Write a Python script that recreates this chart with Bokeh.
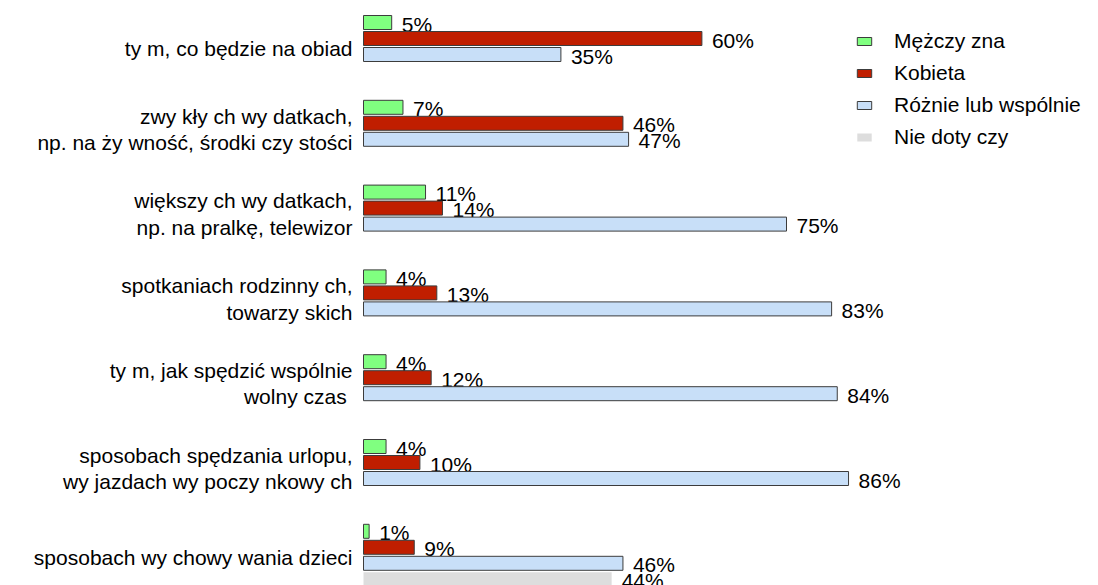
from bokeh.plotting import figure
from bokeh.models import ColumnDataSource, Range1d, Legend, LegendItem
from bokeh.core.properties import value
from bokeh.embed import file_html
from bokeh.resources import INLINE

categories = [
    "ty m, co będzie na obiad",
    "zwy kły ch wy datkach,\nnp. na ży wność, środki czy stości",
    "większy ch wy datkach,\nnp. na pralkę, telewizor",
    "spotkaniach rodzinny ch,\ntowarzy skich",
    "ty m, jak spędzić wspólnie\nwolny  czas",
    "sposobach spędzania urlopu,\nwy jazdach wy poczy nkowy ch",
    "sposobach wy chowy wania dzieci",
]
series_names = ["Mężczy zna", "Kobieta", "Różnie lub wspólnie", "Nie doty czy"]
mezczyzna = [5, 7, 11, 4, 4, 4, 1]
kobieta = [60, 46, 14, 13, 12, 10, 9]
wspolnie = [35, 47, 75, 83, 84, 86, 46]
nie_dotyczy_cat = [6]
nie_dotyczy = [44]

colors = ["#80ff80", "#c01e00", "#c8dff8", "#dddddd"]
outline = "#3c3c3c"

W, H = 1098, 585
px_per_unit = 84.8
center0 = 46
slot = 16 / px_per_unit
bar_h = 14 / px_per_unit
left_px = 363
px_per_pct = 5.64

p = figure(width=W, height=H, output_backend="svg", toolbar_location=None,
           min_border=0, min_border_left=0, min_border_right=0,
           min_border_top=0, min_border_bottom=0,
           x_range=Range1d(-left_px / px_per_pct, (W - left_px) / px_per_pct),
           y_range=Range1d((H - center0) / px_per_unit, -center0 / px_per_unit))
p.axis.visible = False
p.grid.visible = False
p.outline_line_color = None

FONT = "Liberation Sans"
FS = "21px"

series = [
    (list(range(len(categories))), mezczyzna, -1.5),
    (list(range(len(categories))), kobieta, -0.5),
    (list(range(len(categories))), wspolnie, 0.5),
    (nie_dotyczy_cat, nie_dotyczy, 1.5),
]

renderers = []
for i, (idx, vals, off) in enumerate(series):
    src = ColumnDataSource(dict(
        y=[k + off * slot for k in idx],
        v=vals,
        lab=[f"{v}%" for v in vals],
    ))
    r = p.hbar(y="y", left=0, right="v", height=bar_h, source=src,
               fill_color=colors[i],
               line_color=(outline if i < 3 else None), line_width=1)
    renderers.append(r)
    p.text(x="v", y="y", text="lab", source=src, x_offset=10, y_offset=1.5,
           text_font=value(FONT), text_font_size=FS, text_color="#000000",
           text_align="left", text_baseline="middle")

cat_src = ColumnDataSource(dict(x=[0] * len(categories),
                                y=list(range(len(categories))),
                                t=categories,
                                dy=[2 if "\n" not in c else -2 for c in categories]))
p.text(x="x", y="y", text="t", source=cat_src, x_offset=-11, y_offset="dy",
       text_font=value(FONT), text_font_size=FS, text_color="#000000",
       text_align="right", text_baseline="middle", text_line_height=1.15)

legend = Legend(items=[LegendItem(label=series_names[i], renderers=[renderers[i]])
                       for i in range(4)],
                location=(855, 436), orientation="vertical",
                glyph_width=18, glyph_height=10, label_standoff=21,
                label_height=24, spacing=8, padding=10,
                label_text_font=FONT, label_text_font_size=FS,
                label_text_color="#000000",
                border_line_color=None, background_fill_alpha=0)
p.add_layout(legend)

open("out.html", "w").write(file_html(p, INLINE))
